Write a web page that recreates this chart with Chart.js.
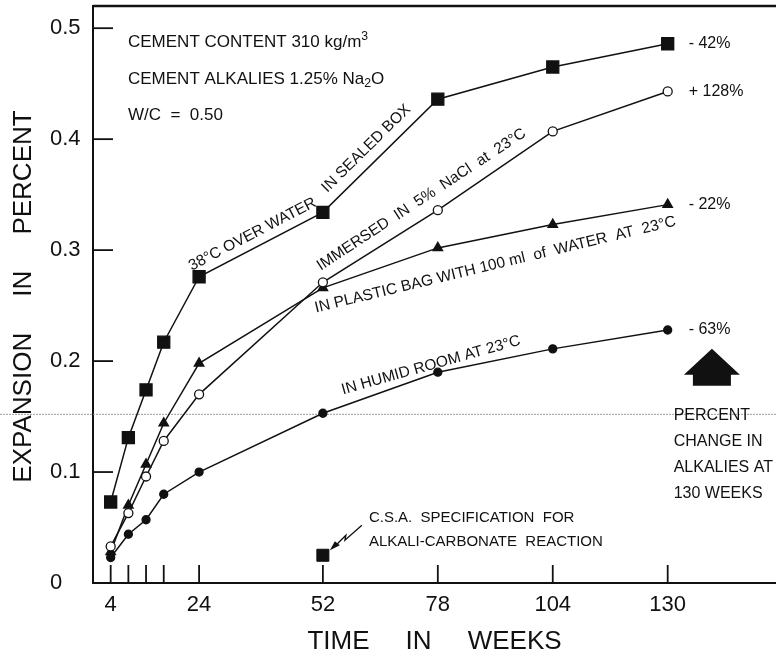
<!DOCTYPE html>
<html>
<head>
<meta charset="utf-8">
<script src="https://cdn.jsdelivr.net/npm/chart.js@4.4.1/dist/chart.umd.min.js"></script>
<style>
  html, body { margin: 0; padding: 0; background: #fff; }
  #chart { display: block; }
</style>
</head>
<body>
<canvas id="chart" width="776" height="658"></canvas>
<script>
// Data (expansion in percent vs time in weeks)
const weeks = [4, 8, 12, 16, 24, 52, 78, 104, 130];
const sealedBox = [0.073, 0.131, 0.174, 0.217, 0.276, 0.334, 0.436, 0.465, 0.486];
const naclImmersed = [0.033, 0.063, 0.096, 0.128, 0.170, 0.271, 0.336, 0.407, 0.443];
const plasticBag = [0.028, 0.070, 0.107, 0.144, 0.198, 0.266, 0.302, 0.323, 0.341];
const humidRoom = [0.023, 0.044, 0.057, 0.080, 0.100, 0.153, 0.190, 0.211, 0.228];

// C.S.A. specification point
const csaWeek = [52];
const csaValue = [0.025];

// percent change in alkalies at 130 weeks, one per series
const alkaliChange = ["- 42%", "+ 128%", "- 22%", "- 63%"];

const xTickValues = [4, 8, 12, 16, 24, 52, 78, 104, 130];
const xTickLabels = ["4", "", "", "", "24", "52", "78", "104", "130"];
const yTickValues = [0, 0.1, 0.2, 0.3, 0.4, 0.5];
const yTickLabels = ["0", "0.1", "0.2", "0.3", "0.4", "0.5"];

const FONT = '"Liberation Sans", Arial, Helvetica, sans-serif';
const INK = "#111";
Chart.defaults.font.family = FONT;
Chart.defaults.color = INK;

function points(values) {
  return weeks.map((w, i) => ({ x: w, y: values[i] }));
}

function lineSet(values, style, radius, fill) {
  return {
    data: points(values),
    borderColor: INK,
    borderWidth: 1.5,
    tension: 0,
    pointStyle: style,
    pointRadius: radius,
    pointBackgroundColor: fill,
    pointBorderColor: INK,
    pointBorderWidth: 1.3,
  };
}

function px(chart, week, value) {
  return [chart.scales.x.getPixelForValue(week), chart.scales.y.getPixelForValue(value)];
}

// write a label along the chord between two points of a series
function chordLabel(chart, values, i, j, t, offset, text, size) {
  const ctx = chart.ctx;
  const [x1, y1] = px(chart, weeks[i], values[i]);
  const [x2, y2] = px(chart, weeks[j], values[j]);
  const a = Math.atan2(y2 - y1, x2 - x1);
  const cx = x1 + t * (x2 - x1) + offset * Math.sin(a);
  const cy = y1 + t * (y2 - y1) - offset * Math.cos(a);
  ctx.save();
  ctx.translate(cx, cy);
  ctx.rotate(a);
  ctx.font = size + "px " + FONT;
  ctx.textAlign = "center";
  ctx.textBaseline = "middle";
  ctx.fillText(text, 0, 0);
  ctx.restore();
}

function plainText(ctx, text, x, y, size, align) {
  ctx.font = size + "px " + FONT;
  ctx.textAlign = align || "left";
  ctx.textBaseline = "middle";
  ctx.fillText(text, x, y);
}

// text with super / subscripts: parts are [text, shift] (-1 sup, 1 sub)
function richText(ctx, parts, x, y, size) {
  let cx = x;
  parts.forEach(([t, s]) => {
    const sz = s ? size * 0.72 : size;
    ctx.font = sz + "px " + FONT;
    ctx.textAlign = "left";
    ctx.textBaseline = "middle";
    ctx.fillText(t, cx, y + (s < 0 ? -0.3 : 0.28) * size * Math.abs(s));
    cx += ctx.measureText(t).width;
  });
}

const decorations = {
  id: "decorations",
  beforeDatasetsDraw(chart) {
    // faint scan line running across the whole sheet
    const ctx = chart.ctx;
    const y = chart.scales.y.getPixelForValue(0.152);
    ctx.save();
    ctx.strokeStyle = "#9a9a9a";
    ctx.lineWidth = 1;
    ctx.setLineDash([2, 1]);
    ctx.beginPath();
    ctx.moveTo(0, y);
    ctx.lineTo(chart.width, y);
    ctx.stroke();
    ctx.restore();
  },
  afterDraw(chart) {
    const ctx = chart.ctx;
    const area = chart.chartArea;
    const xs = chart.scales.x;
    const ys = chart.scales.y;
    ctx.save();
    ctx.strokeStyle = INK;
    ctx.fillStyle = INK;

    // top frame line
    ctx.lineWidth = 2.5;
    ctx.beginPath();
    ctx.moveTo(area.left, area.top);
    ctx.lineTo(area.right, area.top);
    ctx.stroke();

    // inward tick marks
    ctx.lineWidth = 1.8;
    xs.ticks.forEach(t => {
      const x = xs.getPixelForValue(t.value);
      ctx.beginPath();
      ctx.moveTo(x, area.bottom);
      ctx.lineTo(x, area.bottom - 18);
      ctx.stroke();
    });
    ys.ticks.forEach(t => {
      if (t.value === 0) return;
      const y = ys.getPixelForValue(t.value);
      ctx.beginPath();
      ctx.moveTo(area.left, y);
      ctx.lineTo(area.left + 20, y);
      ctx.stroke();
    });

    // y axis title
    ctx.save();
    ctx.translate(24, (area.top + area.bottom) / 2 + 2);
    ctx.rotate(-Math.PI / 2);
    plainText(ctx, "EXPANSION     IN     PERCENT", 0, 0, 26, "center");
    ctx.restore();

    // mix description
    richText(ctx, [["CEMENT CONTENT 310 kg/m", 0], ["3", -1]], area.left + 35, area.top + 36, 17);
    richText(ctx, [["CEMENT ALKALIES 1.25% Na", 0], ["2", 1], ["O", 0]], area.left + 35, area.top + 73, 17);
    plainText(ctx, "W/C  =  0.50", area.left + 35, area.top + 109, 17);

    // series labels
    chordLabel(chart, sealedBox, 4, 5, 0.48, 13, "38°C OVER WATER", 15.5);
    chordLabel(chart, sealedBox, 5, 6, 0.47, 15, "IN SEALED BOX", 15.5);
    chordLabel(chart, naclImmersed, 5, 7, 0.465, 15, "IMMERSED  IN  5%  NaCl  at  23°C", 15.5);
    chordLabel(chart, plasticBag, 5, 8, 0.488, -18, "IN PLASTIC BAG WITH 100 ml  of  WATER  AT  23°C", 15.5);
    chordLabel(chart, humidRoom, 5, 7, 0.49, 17, "IN HUMID ROOM AT 23°C", 15.5);

    // percent change at the end of each series
    const last = weeks.length - 1;
    [sealedBox, naclImmersed, plasticBag, humidRoom].forEach((vals, k) => {
      const [x, y] = px(chart, weeks[last], vals[last]);
      plainText(ctx, alkaliChange[k], x + 21, y, 16);
    });

    // big upward arrow
    const ax = xs.getPixelForValue(140);
    const ay = ys.getPixelForValue(0.211);
    ctx.beginPath();
    ctx.moveTo(ax, ay);
    ctx.lineTo(ax + 28, ay + 26);
    ctx.lineTo(ax + 19, ay + 26);
    ctx.lineTo(ax + 19, ay + 37);
    ctx.lineTo(ax - 19, ay + 37);
    ctx.lineTo(ax - 19, ay + 26);
    ctx.lineTo(ax - 28, ay + 26);
    ctx.closePath();
    ctx.fill();

    const bx = xs.getPixelForValue(weeks[last]) + 6;
    ["PERCENT", "CHANGE IN", "ALKALIES AT", "130 WEEKS"].forEach((s, k) => {
      plainText(ctx, s, bx, ys.getPixelForValue(0.152) + 1 + k * 26, 16);
    });

    // C.S.A. note with lightning pointer
    const [cx, cy] = px(chart, csaWeek[0], csaValue[0]);
    plainText(ctx, "C.S.A.  SPECIFICATION  FOR", cx + 46, cy - 37, 15);
    plainText(ctx, "ALKALI-CARBONATE  REACTION", cx + 46, cy - 13, 15);
    ctx.lineWidth = 1.3;
    ctx.beginPath();
    ctx.moveTo(cx + 39, cy - 30);
    ctx.lineTo(cx + 22, cy - 15);
    ctx.lineTo(cx + 23, cy - 20);
    ctx.lineTo(cx + 13, cy - 10);
    ctx.stroke();
    ctx.beginPath();
    ctx.moveTo(cx + 7, cy - 5);
    ctx.lineTo(cx + 17, cy - 10);
    ctx.lineTo(cx + 12, cy - 14);
    ctx.closePath();
    ctx.fill();

    ctx.restore();
  },
};

new Chart(document.getElementById("chart"), {
  type: "line",
  data: {
    datasets: [
      lineSet(sealedBox, "rect", 8.5, INK),
      lineSet(naclImmersed, "circle", 4.5, "#fff"),
      lineSet(plasticBag, "triangle", 5.5, INK),
      lineSet(humidRoom, "circle", 4, INK),
      {
        data: csaWeek.map((w, i) => ({ x: w, y: csaValue[i] })),
        showLine: false,
        pointStyle: "rect",
        pointRadius: 8.5,
        pointBackgroundColor: INK,
        pointBorderColor: INK,
      },
    ],
  },
  options: {
    responsive: false,
    animation: false,
    devicePixelRatio: 1,
    layout: { autoPadding: false, padding: { left: 50, top: 6, right: 0, bottom: 0 } },
    plugins: { legend: { display: false }, tooltip: { enabled: false } },
    scales: {
      x: {
        type: "linear",
        min: 0,
        max: 154.5,
        afterBuildTicks: s => { s.ticks = xTickValues.map(v => ({ value: v })); },
        afterFit: s => { s.height = 75; s.paddingLeft = 0; s.paddingRight = 0; },
        ticks: {
          autoSkip: false,
          maxRotation: 0,
          padding: 9,
          font: { size: 22 },
          callback: v => xTickLabels[xTickValues.indexOf(v)],
        },
        grid: { display: false, drawTicks: false },
        border: { display: true, width: 2, color: INK },
        title: {
          display: true,
          text: "TIME     IN     WEEKS",
          font: { size: 26 },
          padding: { top: 0, bottom: 1 },
        },
      },
      y: {
        type: "linear",
        min: 0,
        max: 0.52,
        afterBuildTicks: s => { s.ticks = yTickValues.map(v => ({ value: v })); },
        afterFit: s => { s.width = 43; s.paddingTop = 0; s.paddingBottom = 0; },
        ticks: {
          crossAlign: "far",
          font: { size: 22 },
          callback: v => yTickLabels[yTickValues.indexOf(v)],
        },
        grid: { display: false, drawTicks: false },
        border: { display: true, width: 2, color: INK },
      },
    },
  },
  plugins: [decorations],
});
</script>
</body>
</html>
